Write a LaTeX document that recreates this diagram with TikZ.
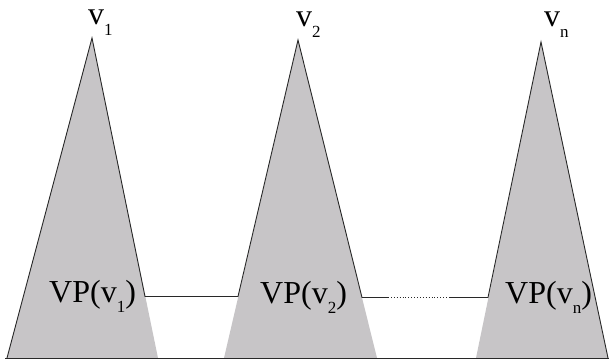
\documentclass[tikz,border=0pt]{standalone}
\usepackage{fontspec}
\setmainfont{Liberation Serif}
\definecolor{cone}{RGB}{199,197,199}
\definecolor{ink}{RGB}{40,40,40}
\newcommand\sbs[1]{\raisebox{-0.34em}{\fontsize{17}{17}\selectfont #1}}
\begin{document}
\begin{tikzpicture}[x=1pt,y=1pt,
  lab/.style={inner sep=0pt,anchor=base west,font=\fontsize{32}{36}\selectfont,text=black},
  edge/.style={draw=ink,line width=0.9pt}]
\useasboundingbox (0,0) rectangle (609,361);
% coordinates (y = 361 - pixel row)
\coordinate (a1) at (92,323);
\coordinate (l1) at (7,3);
\coordinate (r1) at (145,64.5);
\coordinate (b1) at (158,3);
\coordinate (a2) at (298,321);
\coordinate (l2) at (238,64.5);
\coordinate (bl2) at (224,3);
\coordinate (r2) at (362,63.5);
\coordinate (br2) at (377,3);
\coordinate (an) at (541,319);
\coordinate (ln) at (488,63.5);
\coordinate (bln) at (476,3);
\coordinate (rn) at (608,3);
\coordinate (d1) at (388,63.5);
\coordinate (d2) at (450,63.5);
\coordinate (e0) at (5,2.5);
\coordinate (e1) at (609,2.5);
% fills
\fill[cone] (l1) -- (a1) -- (b1) -- cycle;
\fill[cone] (bl2) -- (a2) -- (br2) -- cycle;
\fill[cone] (bln) -- (an) -- (rn) -- cycle;
% outlines
\draw[edge] (l1) -- (a1) -- (r1) -- (l2) -- (a2) -- (r2) -- (d1);
\draw[edge,dotted,line width=0.7pt] (d1) -- (d2);
\draw[edge] (d2) -- (ln) -- (an) -- (rn);
\draw[edge] (e0) -- (e1);
% labels
\node[lab] (t1) at (88,336) {v\sbs{1}};
\node[lab] (t2) at (296,334) {v\sbs{2}};
\node[lab] (tn) at (544,334) {v\sbs{n}};
\node[lab] (p1) at (49,59) {VP(v\sbs{1})};
\node[lab] (p2) at (260,58) {VP(v\sbs{2})};
\node[lab] (pn) at (505,58) {VP(v\sbs{n})};
\end{tikzpicture}
\end{document}
